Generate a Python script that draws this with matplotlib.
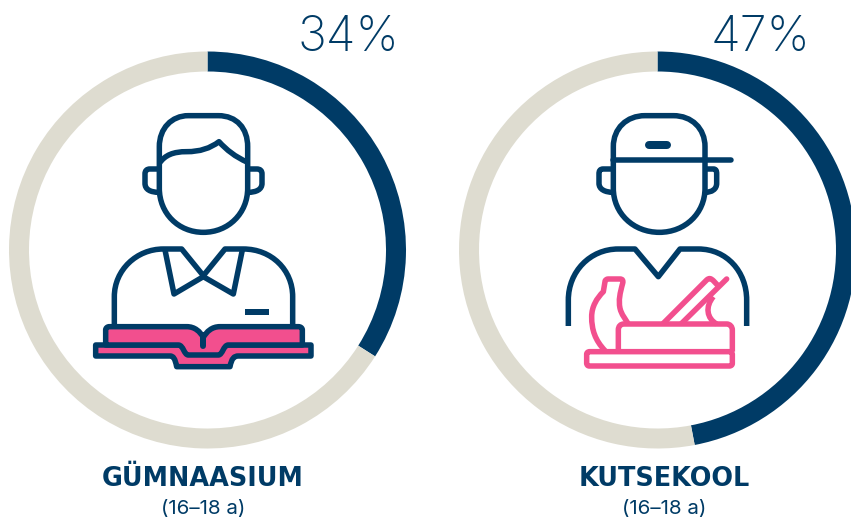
import matplotlib
matplotlib.use('Agg')
import matplotlib.pyplot as plt
from matplotlib.path import Path
from matplotlib.patches import PathPatch

# Data #
labels = ['GÜMNAASIUM', 'KUTSEKOOL']
ages = ['(16–18 a)', '(16–18 a)']
shares = [34, 47]

navy = '#003B66'
beige = '#DEDCD0'
pink = '#F24F8E'
W, H = 851, 520

plt.rcParams['font.family'] = ['Inter', 'DejaVu Sans']
fig = plt.figure(figsize=(W / 100, H / 100), dpi=100)

# Rings #
for cx, share in zip([207.5, 657.5], shares):
    r = 198.5
    ax = fig.add_axes([(cx - r) / W, 1 - (250 + r) / H, 2 * r / W, 2 * r / H])
    ax.pie([share, 100 - share], colors=[navy, beige], startangle=90, counterclock=False,
           radius=1, wedgeprops={'width': 20 / r, 'linewidth': 0})
    ax.set_xlim(-1, 1)
    ax.set_ylim(-1, 1)
    ax.axis('off')

# Overlay in pixel coordinates, for icons and text #
ov = fig.add_axes([0, 0, 1, 1])
ov.set_xlim(0, W)
ov.set_ylim(H, 0)
ov.axis('off')


def shape(d, off, color=navy, lw=5.5, fill='none', closed=False, cap='butt'):
    # d is a list of points, 2 numbers = line, 6 numbers = curve, in 3x zoomed coordinates
    verts = []
    codes = []
    for i, s in enumerate(d):
        pts = [(off[0] + s[k] / 3, off[1] + s[k + 1] / 3) for k in range(0, len(s), 2)]
        verts += pts
        if i == 0:
            codes.append(Path.MOVETO)
        elif len(s) == 2:
            codes.append(Path.LINETO)
        else:
            codes += [Path.CURVE4] * 3
    if closed:
        verts.append(verts[0])
        codes.append(Path.CLOSEPOLY)
    ov.add_patch(PathPatch(Path(verts, codes), facecolor=fill, edgecolor=color,
                           linewidth=lw * 0.72, joinstyle='round', capstyle=cap))


# Left icon, student with a book #
o = (80, 100)
shape([(238, 140), (238, 85, 275, 47, 325, 47), (415, 47), (470, 47, 503, 85, 503, 140), (503, 265),
       (503, 340, 445, 397, 370, 397), (295, 397, 238, 340, 238, 265)], o, closed=True)
shape([(238, 190), (255, 165, 280, 155, 320, 155), (360, 155, 390, 145, 417, 125), (440, 150, 465, 170, 503, 187)], o)
shape([(238, 207), (210, 207), (200, 207, 195, 212, 195, 222), (195, 250), (195, 268, 210, 277, 238, 277)], o)
shape([(503, 207), (530, 207), (541, 207, 546, 212, 546, 222), (546, 250), (546, 268, 530, 277, 503, 277)], o)
shape([(103, 680), (103, 590), (103, 510, 170, 447, 250, 447), (305, 447), (370, 527), (435, 447), (490, 447),
       (575, 447, 638, 510, 638, 590), (638, 680)], o)
shape([(255, 450), (282, 582), (370, 530), (460, 582), (487, 450)], o)
shape([(495, 637), (567, 637)], o, lw=6)
shape([(47, 735), (47, 768), (270, 768), (280, 768, 285, 775, 290, 800), (450, 800), (455, 775, 462, 768, 475, 768),
       (693, 768), (693, 735)], o, fill=pink, closed=True)
shape([(77, 733), (77, 690), (77, 684, 82, 680, 88, 680), (320, 680), (345, 680, 360, 695, 370, 712),
       (380, 695, 395, 680, 420, 680), (655, 680), (662, 680, 667, 684, 667, 690), (667, 735), (445, 735),
       (430, 735, 428, 765, 415, 765), (325, 765), (312, 765, 310, 735, 295, 735), (77, 735)], o, fill=pink, closed=True)
shape([(370, 712), (370, 738)], o, lw=6, cap='round')

# Right icon, worker with a plane #
o = (550, 100)
shape([(190, 140), (190, 85, 230, 47, 285, 47), (370, 47), (425, 47, 465, 85, 465, 140), (465, 265),
       (465, 340, 405, 397, 328, 397), (250, 397, 190, 340, 190, 265)], o, closed=True)
shape([(190, 180), (543, 180)], o, cap='round')
shape([(298, 135), (352, 135)], o, lw=8, cap='round')
shape([(190, 207), (160, 207), (150, 207, 147, 212, 147, 222), (147, 250), (147, 268, 165, 277, 190, 277)], o)
shape([(465, 207), (490, 207), (498, 207, 500, 212, 500, 222), (500, 250), (500, 268, 485, 277, 465, 277)], o)
shape([(55, 678), (55, 600), (55, 515, 120, 447, 205, 447), (255, 447), (325, 530), (390, 447), (445, 447),
       (530, 447, 590, 515, 590, 600), (590, 678)], o)
shape([(118, 755), (539, 755), (547, 755, 547, 763, 547, 763), (547, 790), (547, 798, 539, 798, 539, 798),
       (118, 798), (110, 798, 110, 790, 110, 790), (110, 763), (110, 755, 118, 755, 118, 755)], o, color=pink)
shape([(205, 755), (205, 690), (205, 678, 212, 672, 222, 672), (530, 672), (540, 672, 547, 680, 547, 690), (547, 755)], o, color=pink)
shape([(165, 752), (135, 720, 125, 690, 125, 650), (125, 620, 140, 595, 160, 575), (165, 545),
       (165, 540, 170, 537, 175, 537), (210, 537), (218, 537, 220, 542, 218, 550),
       (210, 580, 205, 600, 210, 625), (215, 645, 225, 655, 235, 672)], o, color=pink)
shape([(340, 670), (470, 540), (478, 533, 482, 535, 490, 542), (505, 558)], o, color=pink, cap='round')
shape([(395, 670), (530, 537)], o, color=pink, cap='round')
shape([(490, 590), (465, 620, 470, 655, 500, 672)], o, color=pink)

# Text #
for x, share in zip([399.5, 810.5], shares):
    ov.text(x, 38, f'{share}%', ha='right', va='center', fontsize=35, color=navy, fontweight='light')
for x, label, age in zip([203, 664], labels, ages):
    ov.text(x, 479, label, ha='center', va='center', fontsize=18.4, color=navy, fontweight='bold',
            family='DejaVu Sans')
    ov.text(x, 509, age, ha='center', va='center', fontsize=14.8, color=navy)

fig.savefig('out.png', dpi=100)
